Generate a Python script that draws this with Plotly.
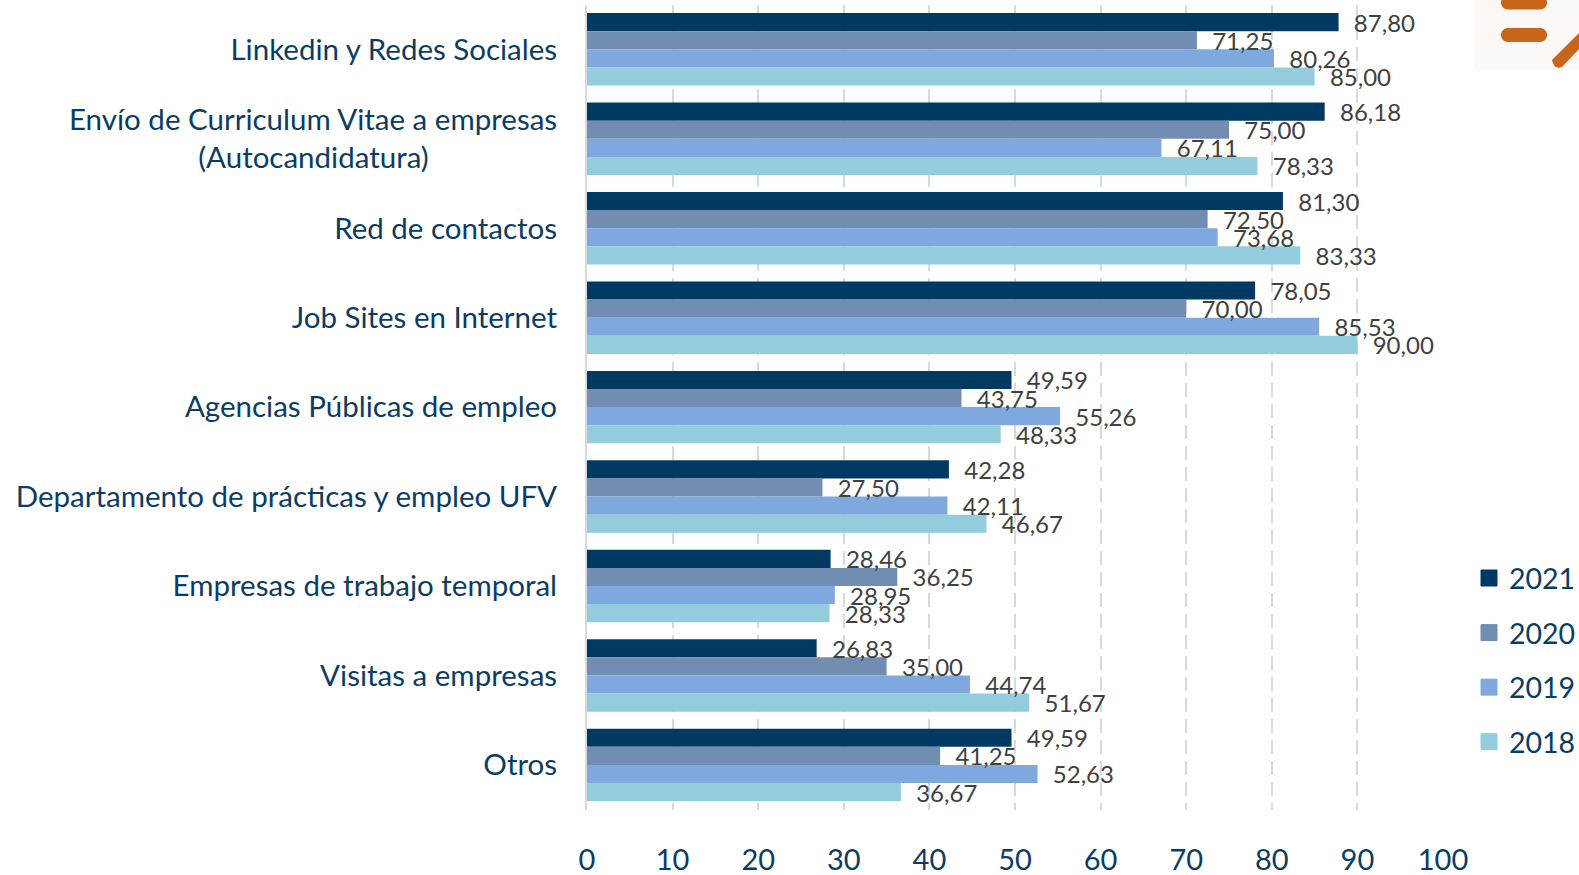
import plotly.graph_objects as go

W, H = 1579, 875

categories = ["Linkedin y Redes Sociales",
              "Envío de Curriculum Vitae a empresas<br>(Autocandidatura)" + "\u00a0" * 17,
              "Red de contactos", "Job Sites en Internet", "Agencias Públicas de empleo",
              "Departamento de prácticas y empleo UFV", "Empresas de trabajo temporal",
              "Visitas a empresas", "Otros"]
v2021 = [87.80, 86.18, 81.30, 78.05, 49.59, 42.28, 28.46, 26.83, 49.59]
v2020 = [71.25, 75.00, 72.50, 70.00, 43.75, 27.50, 36.25, 35.00, 41.25]
v2019 = [80.26, 67.11, 73.68, 85.53, 55.26, 42.11, 28.95, 44.74, 52.63]
v2018 = [85.00, 78.33, 83.33, 90.00, 48.33, 46.67, 28.33, 51.67, 36.67]
series = [("2021", v2021, "#003A63"), ("2020", v2020, "#718DB2"),
          ("2019", v2019, "#7FA9DE"), ("2018", v2018, "#93CDDD")]
xticks = list(range(0, 101, 10))

NAVY = "#0B3C64"
FONT = "Lato, Carlito, sans-serif"


def px(x):
    return x / W


def py(y):
    return 1 - y / H


def capsule(x0, y0, x1, y1, color):
    r = (y1 - y0) / 2
    k = r * 0.55
    ym = (y0 + y1) / 2
    P = lambda a, b: f"{px(a):.5f},{py(b):.5f}"
    path = (f"M{P(x0 + r, y0)} L{P(x1 - r, y0)} "
            f"C{P(x1 - r + k, y0)} {P(x1, ym - k)} {P(x1, ym)} "
            f"C{P(x1, ym + k)} {P(x1 - r + k, y1)} {P(x1 - r, y1)} "
            f"L{P(x0 + r, y1)} "
            f"C{P(x0 + r - k, y1)} {P(x0, ym + k)} {P(x0, ym)} "
            f"C{P(x0, ym - k)} {P(x0 + r - k, y0)} {P(x0 + r, y0)} Z")
    return dict(type="path", xref="paper", yref="paper", path=path,
                fillcolor=color, line_width=0, layer="above")


ORANGE = "#C8651B"
shapes = [
    dict(type="rect", xref="paper", yref="paper", x0=px(1474), x1=1, y0=py(70), y1=1,
         fillcolor="#FBF8F6", line_width=0, layer="below"),
    capsule(1501, -4, 1547, 9.5, ORANGE),
    capsule(1501, 28, 1547, 42, ORANGE),
    dict(type="path", xref="paper", yref="paper",
         path=(f"M{px(1552):.5f},{py(60):.5f} L{px(1579):.5f},{py(33):.5f} "
               f"L{px(1579):.5f},{py(49):.5f} L{px(1562):.5f},{py(67):.5f} "
               f"Q{px(1554):.5f},{py(70):.5f} {px(1552):.5f},{py(60):.5f} Z"),
         fillcolor=ORANGE, line_width=0, layer="above"),
]

fig = go.Figure()
# visible bars
for name, vals, color in series:
    fig.add_trace(go.Bar(
        y=categories, x=vals, orientation="h", name=name, marker_color=color,
        marker_line_width=0, showlegend=False, cliponaxis=False,
    ))
# value labels, on an overlaid subplot so they sit on top of every bar
for name, vals, color in series:
    fig.add_trace(go.Bar(
        y=categories, x=vals, orientation="h", name=name, xaxis="x2", yaxis="y2",
        marker_color="rgba(0,0,0,0)", marker_line_width=0, showlegend=False,
        text=["\u00a0\u00a0" + f"{v:.2f}".replace(".", ",") for v in vals],
        textposition="outside", cliponaxis=False, textangle=0, constraintext="none",
        textfont=dict(family=FONT, size=24, color="#404040"),
    ))
for name, vals, color in series:
    fig.add_trace(go.Scatter(
        x=[None], y=[None], mode="markers", name=name, legendgroup=name,
        marker=dict(symbol="square", size=16, color=color, line=dict(width=1, color=color)),
    ))

fig.update_layout(
    width=W, height=H, margin=dict(l=0, r=0, t=0, b=0, pad=0, autoexpand=False),
    paper_bgcolor="white", plot_bgcolor="rgba(0,0,0,0)",
    barmode="group", bargap=0.19, bargroupgap=0,
    font=dict(family=FONT, color=NAVY, size=28),
    shapes=shapes,
    showlegend=True,
    legend=dict(x=px(1469), xanchor="left", y=py(553), yanchor="top", bgcolor="rgba(0,0,0,0)",
                font=dict(family=FONT, size=28.5, color=NAVY), tracegroupgap=14.5,
                itemclick=False, itemdoubleclick=False),
    xaxis=dict(domain=[px(587), px(1443)], range=[0, 100], tickvals=xticks, automargin=False,
               ticktext=[str(t) for t in xticks], showgrid=True, gridcolor="#D9D9D9", gridwidth=2,
               griddash="14px,7px", zeroline=False, showline=False, ticks="",
               ticklabelstandoff=30, tickfont=dict(family=FONT, size=29, color=NAVY)),
    yaxis=dict(domain=[py(809.6), py(4.6)], range=[8.5, -0.5], type="category", automargin=False,
               categoryorder="array", categoryarray=categories, showline=True,
               linecolor="#D9D9D9", linewidth=2, showgrid=False, ticks="",
               ticklabelstandoff=22, tickfont=dict(family=FONT, size=29.5, color=NAVY)),
    xaxis2=dict(overlaying="x", anchor="y2", range=[0, 100], visible=False, automargin=False),
    yaxis2=dict(overlaying="y", anchor="x2", range=[8.5, -0.5], type="category", visible=False,
                categoryorder="array", categoryarray=categories, automargin=False),
)
fig.write_html("out.html", post_script="document.body.style.margin='0';",
               config=dict(displayModeBar=False))
